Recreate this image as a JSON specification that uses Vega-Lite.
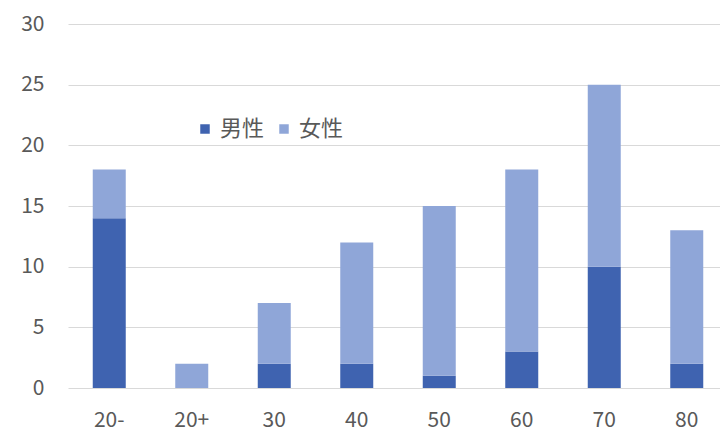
{
  "$schema": "https://vega.github.io/schema/vega-lite/v6.json",
  "autosize": "none",
  "width": 660,
  "height": 364,
  "padding": {"left": 68, "top": 24, "right": 0, "bottom": 44},
  "background": "white",
  "config": {
    "font": "Noto Sans CJK JP",
    "view": {"stroke": null}
  },
  "data": {
    "values": [
      {"age": "20-", "sex": "男性", "o": 0, "n": 14},
      {"age": "20-", "sex": "女性", "o": 1, "n": 4},
      {"age": "20+", "sex": "男性", "o": 0, "n": 0},
      {"age": "20+", "sex": "女性", "o": 1, "n": 2},
      {"age": "30", "sex": "男性", "o": 0, "n": 2},
      {"age": "30", "sex": "女性", "o": 1, "n": 5},
      {"age": "40", "sex": "男性", "o": 0, "n": 2},
      {"age": "40", "sex": "女性", "o": 1, "n": 10},
      {"age": "50", "sex": "男性", "o": 0, "n": 1},
      {"age": "50", "sex": "女性", "o": 1, "n": 14},
      {"age": "60", "sex": "男性", "o": 0, "n": 3},
      {"age": "60", "sex": "女性", "o": 1, "n": 15},
      {"age": "70", "sex": "男性", "o": 0, "n": 10},
      {"age": "70", "sex": "女性", "o": 1, "n": 15},
      {"age": "80", "sex": "男性", "o": 0, "n": 2},
      {"age": "80", "sex": "女性", "o": 1, "n": 11}
    ]
  },
  "mark": {"type": "bar"},
  "encoding": {
    "x": {
      "field": "age", "type": "nominal", "sort": null,
      "scale": {"paddingInner": 0.6, "paddingOuter": 0.3},
      "axis": {
        "title": null, "labelAngle": 0, "domain": false, "ticks": false,
        "labelFontSize": 21, "labelColor": "#595959", "labelPadding": 21
      }
    },
    "y": {
      "field": "n", "type": "quantitative", "stack": "zero",
      "scale": {"domain": [0, 30], "nice": false},
      "axis": {
        "title": null, "values": [0, 5, 10, 15, 20, 25, 30], "domain": false, "ticks": false,
        "labelFontSize": 21, "labelColor": "#595959", "labelPadding": 24,
        "gridColor": "#d9d9d9", "gridWidth": 1.2
      }
    },
    "color": {
      "field": "sex", "type": "nominal",
      "scale": {"domain": ["男性", "女性"], "range": ["#3F63B0", "#8FA6D8"]},
      "legend": {
        "title": null, "orient": "none", "direction": "horizontal",
        "legendX": 126, "legendY": 94,
        "symbolType": "square", "symbolSize": 90, "symbolStrokeWidth": 0,
        "labelFontSize": 22, "labelColor": "#595959", "labelOffset": 4, "columnPadding": 8
      }
    },
    "order": {"field": "o", "type": "quantitative"}
  }
}
